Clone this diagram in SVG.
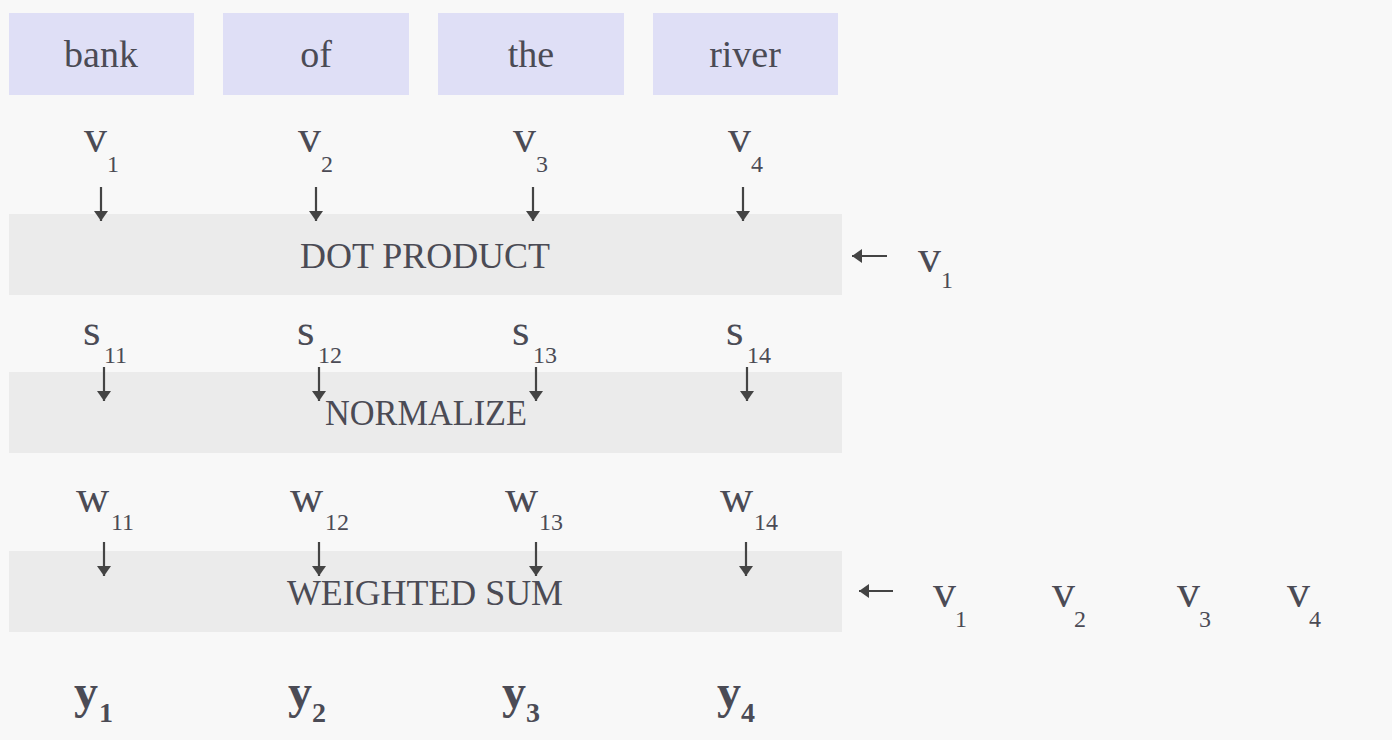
<svg xmlns="http://www.w3.org/2000/svg" width="1392" height="740" viewBox="0 0 1392 740">
<defs>
<style>
.bg{fill:#f8f8f8}
.word{fill:#dfdff6}
.band{fill:#ebebeb}
text{font-family:"Liberation Serif","DejaVu Serif",serif;fill:#4b4b55}
.wt{font-size:38px;text-anchor:middle}
.bt{font-size:35px;text-anchor:middle}
.vv{font-size:46px}
.sub{font-size:24px}
.ss{font-size:45px}
.yy{font-size:48px;font-weight:bold}
.ysub{font-size:28px;font-weight:bold}
.arr{stroke:#444;stroke-width:2.2;fill:none;marker-end:url(#ah)}
</style>
<marker id="ah" viewBox="0 0 10 14" refX="10" refY="7" markerWidth="10" markerHeight="14" markerUnits="userSpaceOnUse" orient="auto">
<path d="M0,0 L10,7 L0,14 z" fill="#444"/>
</marker>
</defs>
<rect class="bg" x="0" y="0" width="1392" height="740"/>

<g id="word-bank"><rect class="word" x="9" y="13" width="185" height="82"/><text class="wt" x="101" y="67">bank</text></g>
<g id="word-of"><rect class="word" x="223" y="13" width="186" height="82"/><text class="wt" x="316" y="67">of</text></g>
<g id="word-the"><rect class="word" x="438" y="13" width="186" height="82"/><text class="wt" x="531" y="67">the</text></g>
<g id="word-river"><rect class="word" x="653" y="13" width="185" height="82"/><text class="wt" x="745" y="67">river</text></g>

<g id="v-labels">
<text class="vv" x="84" y="152">v</text><text class="sub" x="107" y="172">1</text>
<text class="vv" x="298" y="152">v</text><text class="sub" x="321" y="172">2</text>
<text class="vv" x="513" y="152">v</text><text class="sub" x="536" y="172">3</text>
<text class="vv" x="728" y="152">v</text><text class="sub" x="751" y="172">4</text>
</g>

<g id="dot-product"><rect class="band" x="9" y="214" width="833" height="81"/><text class="bt" x="425" y="268" textLength="250" lengthAdjust="spacingAndGlyphs">DOT PRODUCT</text></g>
<g id="dot-input"><text class="vv" x="918" y="272">v</text><text class="sub" x="941" y="288">1</text></g>

<g id="s-labels">
<text class="ss" x="83" y="345">s</text><text class="sub" x="104" y="363">11</text>
<text class="ss" x="297" y="345">s</text><text class="sub" x="318" y="363">12</text>
<text class="ss" x="512" y="345">s</text><text class="sub" x="533" y="363">13</text>
<text class="ss" x="726" y="345">s</text><text class="sub" x="747" y="363">14</text>
</g>

<g id="normalize"><rect class="band" x="9" y="372" width="833" height="81"/><text class="bt" x="426" y="425" textLength="202" lengthAdjust="spacingAndGlyphs">NORMALIZE</text></g>

<g id="w-labels">
<text class="vv" x="76" y="512">w</text><text class="sub" x="111" y="530">11</text>
<text class="vv" x="290" y="512">w</text><text class="sub" x="325" y="530">12</text>
<text class="vv" x="505" y="512">w</text><text class="sub" x="539" y="530">13</text>
<text class="vv" x="720" y="512">w</text><text class="sub" x="754" y="530">14</text>
</g>

<g id="weighted-sum"><rect class="band" x="9" y="551" width="833" height="81"/><text class="bt" x="425" y="605" textLength="276" lengthAdjust="spacingAndGlyphs">WEIGHTED SUM</text></g>
<g id="sum-inputs">
<text class="vv" x="933" y="607">v</text><text class="sub" x="955" y="627">1</text>
<text class="vv" x="1052" y="607">v</text><text class="sub" x="1074" y="627">2</text>
<text class="vv" x="1177" y="607">v</text><text class="sub" x="1199" y="627">3</text>
<text class="vv" x="1287" y="607">v</text><text class="sub" x="1309" y="627">4</text>
</g>

<g id="y-outputs">
<text class="yy" x="74" y="708">y</text><text class="ysub" x="99" y="722">1</text>
<text class="yy" x="288" y="708">y</text><text class="ysub" x="312" y="722">2</text>
<text class="yy" x="502" y="708">y</text><text class="ysub" x="526" y="722">3</text>
<text class="yy" x="717" y="708">y</text><text class="ysub" x="741" y="722">4</text>
</g>

<g id="connectors">
<line class="arr" x1="101" y1="187" x2="101" y2="221"/>
<line class="arr" x1="316" y1="187" x2="316" y2="221"/>
<line class="arr" x1="533" y1="187" x2="533" y2="221"/>
<line class="arr" x1="743" y1="187" x2="743" y2="221"/>
<line class="arr" x1="887" y1="256" x2="852" y2="256"/>
<line class="arr" x1="104" y1="367" x2="104" y2="401"/>
<line class="arr" x1="319" y1="367" x2="319" y2="401"/>
<line class="arr" x1="536" y1="367" x2="536" y2="401"/>
<line class="arr" x1="747" y1="367" x2="747" y2="401"/>
<line class="arr" x1="104" y1="542" x2="104" y2="576"/>
<line class="arr" x1="319" y1="542" x2="319" y2="576"/>
<line class="arr" x1="536" y1="542" x2="536" y2="576"/>
<line class="arr" x1="746" y1="542" x2="746" y2="576"/>
<line class="arr" x1="893" y1="591" x2="859" y2="591"/>
</g>
</svg>
